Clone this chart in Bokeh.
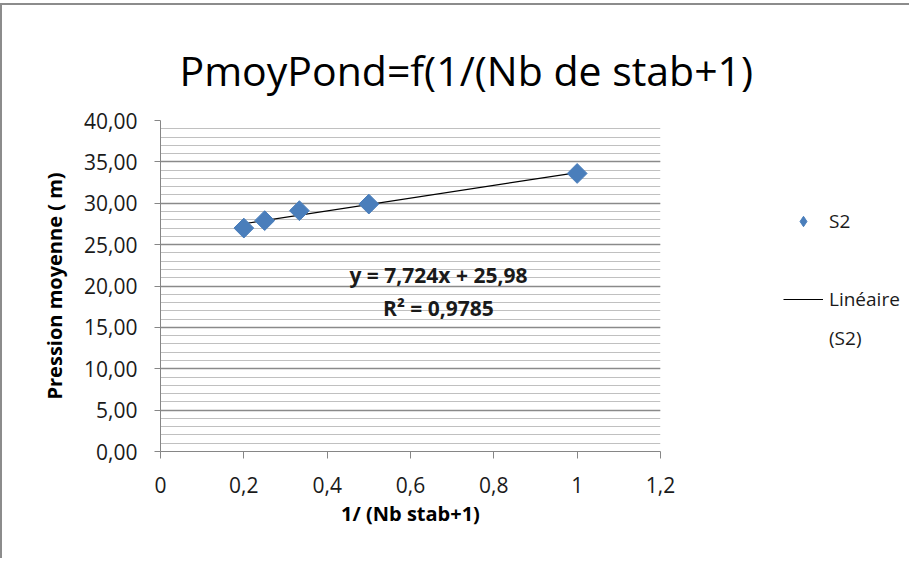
import math
from bokeh.plotting import figure
from bokeh.models import FixedTicker, Label, Legend, LegendItem, Range1d
from bokeh.embed import file_html
from bokeh.resources import INLINE

# ---- data ----
x_vals = [0.2, 0.25, 0.3333, 0.5, 1.0]
y_vals = [27.0, 27.9, 29.1, 29.9, 33.6]
series_name = "S2"
trend_name = "Linéaire"
trend_name2 = "(S2)"
slope = 7.724
intercept = 25.98
r2 = 0.9785

x_ticks = [0, 0.2, 0.4, 0.6, 0.8, 1.0, 1.2]
x_tick_labels = ["0", "0,2", "0,4", "0,6", "0,8", "1", "1,2"]
y_ticks = [0, 5, 10, 15, 20, 25, 30, 35, 40]
y_tick_labels = ["0,00", "5,00", "10,00", "15,00", "20,00", "25,00", "30,00", "35,00", "40,00"]
y_minor = list(range(0, 41))

title_text = "PmoyPond=f(1/(Nb de stab+1)"
x_title = "1/ (Nb stab+1)"
y_title = "Pression moyenne ( m)"

FONT = "Open Sans"
BLUE = "#4A7EBB"

p = figure(frame_width=500, frame_height=331,
           x_range=Range1d(0, 1.2), y_range=Range1d(0, 40),
           output_backend="svg", toolbar_location=None,
           min_border_left=158, min_border_right=247,
           min_border_top=115, min_border_bottom=107,
           background_fill_color="white", border_fill_color="white",
           outline_line_color=None)
p.styles = {"border-top": "2px solid #8c8c8c", "border-left": "2px solid #8c8c8c",
            "margin-top": "3px"}

# title
p.title.text = title_text
p.title.align = "left"
p.title.offset = 19
p.title.standoff = 45
p.title.text_font = FONT
p.title.text_font_size = "41px"
p.title.text_font_style = "normal"
p.title.text_color = "#000000"

# axes
p.xaxis.ticker = FixedTicker(ticks=x_ticks)
p.xaxis.major_label_overrides = {t: l for t, l in zip(x_ticks, x_tick_labels)}
p.yaxis.ticker = FixedTicker(ticks=y_ticks, minor_ticks=y_minor)
p.yaxis.major_label_overrides = {t: l for t, l in zip(y_ticks, y_tick_labels)}

for ax in (p.xaxis[0], p.yaxis[0]):
    ax.axis_line_color = "#868686"
    ax.major_tick_line_color = "#868686"
    ax.minor_tick_line_color = None
    ax.major_tick_in = 0
    ax.major_label_text_font = FONT
    ax.major_label_text_font_size = "21px"
    ax.major_label_text_color = "#1a1a1a"
    ax.axis_label_text_font = FONT
    ax.axis_label_text_font_style = "bold"
    ax.axis_label_text_font_size = "20px"
    ax.axis_label_text_color = "#000000"

p.xaxis.major_tick_out = 7
p.yaxis.major_tick_out = 6
p.xaxis.major_label_standoff = 18
p.yaxis.major_label_standoff = 17
p.xaxis.axis_label = x_title
p.yaxis.axis_label = y_title
p.xaxis.axis_label_standoff = 4
p.yaxis.axis_label_standoff = 13

p.xgrid.grid_line_color = None
p.ygrid.grid_line_color = "#8a8a8a"
p.ygrid.grid_line_width = 1.3
p.ygrid.minor_grid_line_color = "#c0c0c0"
p.ygrid.minor_grid_line_width = 1

# trend line
tx = [min(x_vals), max(x_vals)]
ty = [slope * v + intercept for v in tx]
trend = p.line(tx, ty, line_color="black", line_width=1.2)

# points: a diamond layer (used for the legend swatch) under the square-diamond markers
pts_legend = p.scatter(x_vals, y_vals, marker="diamond", size=17,
                       fill_color=BLUE, line_color=BLUE)
pts = p.scatter(x_vals, y_vals, marker="square", size=14, angle=math.pi / 4,
                fill_color=BLUE, line_color=BLUE)

blank = p.scatter(x=[], y=[], fill_alpha=0, line_alpha=0)

legend = Legend(items=[LegendItem(label=series_name, renderers=[pts_legend]),
                       LegendItem(label=" ", renderers=[blank]),
                       LegendItem(label=trend_name, renderers=[trend]),
                       LegendItem(label=trend_name2, renderers=[blank])],
                location=(123, 100), padding=0, margin=0, spacing=13,
                glyph_width=40, glyph_height=26, label_height=26,
                label_standoff=6, border_line_color=None,
                background_fill_alpha=0,
                label_text_font=FONT, label_text_font_size="19px",
                label_text_color="#1a1a1a")
p.add_layout(legend, "right")

# equation labels
eq_text = f"y = {slope:.3f}x + {intercept:.2f}".replace(".", ",")
r2_text = f"R² = {r2:.4f}".replace(".", ",")
p.add_layout(Label(x=0.667, y=21.27, text=eq_text, text_font=FONT,
                   text_font_size="21px", text_font_style="bold",
                   text_color="#1a1a1a", text_align="center",
                   text_baseline="alphabetic"))
p.add_layout(Label(x=0.667, y=17.4, text=r2_text, text_font=FONT,
                   text_font_size="21px", text_font_style="bold",
                   text_color="#1a1a1a", text_align="center",
                   text_baseline="alphabetic"))

open("out.html", "w").write(file_html(p, INLINE))
